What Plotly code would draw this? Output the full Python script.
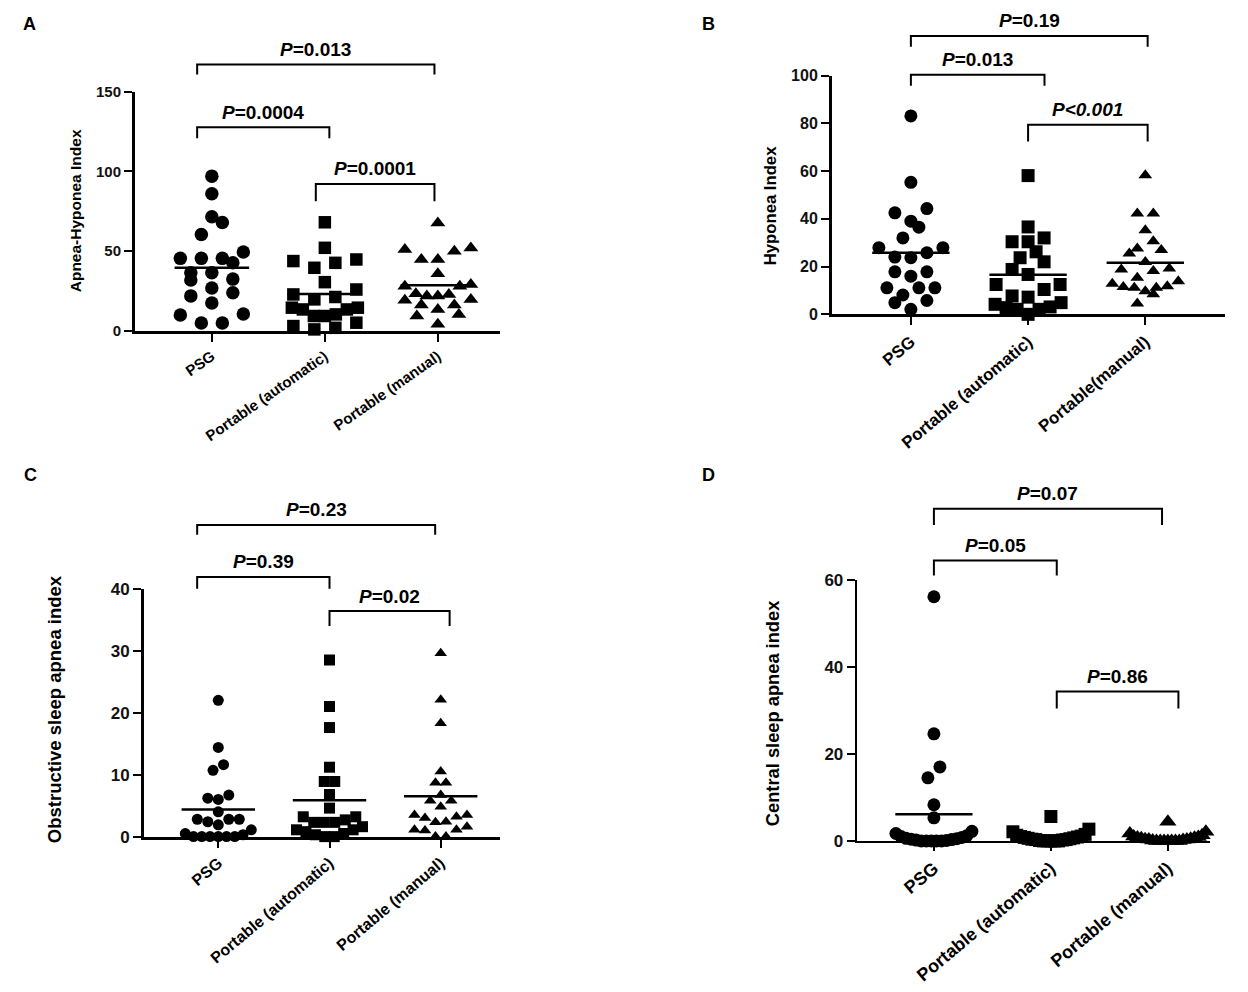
"""
Scatter dot plots: PSG vs portable device (automatic / manual scoring)
Four panels A-D with means and P-value brackets
"""
import numpy as np
import plotly.graph_objects as go

W, H = 1248, 992
FONT = "Liberation Sans, Arial, sans-serif"
# vertical pixel placement correction measured from the rendered page
Y_TOP, Y_SPAN = 7.3, 975.1

groups = ["PSG", "Portable (automatic)", "Portable (manual)"]
groups_b = ["PSG", "Portable (automatic)", "Portable(manual)"]

# A - Apnea-Hyponea Index
ahi_psg = [97, 86, 71.5, 68, 60.5, 49.5, 45.5, 45.5, 45.5, 42.7, 36.5, 36.5,
           32.5, 32, 27, 24, 22, 17.5, 10.6, 10, 5, 5]
ahi_auto = [68.1, 52.1, 44.8, 43.8, 42.7, 39.6, 30.6, 26.0, 22.9, 21.3, 19.8,
            14.6, 14.6, 13.5, 13.5, 10.4, 9.4, 9.4, 5.2, 3.1, 2.0, 1.0]
ahi_manual = [67.7, 52, 51, 50, 44.8, 44.8, 35.8, 29.2, 28.1, 28.1, 23.3, 22.9,
              21.9, 21.9, 19.8, 19.2, 16.3, 16.3, 13.5, 10.4, 9.4, 4.2]
ahi_ticks = [0, 50, 100, 150]
ahi_p = ["P=0.013", "P=0.0004", "P=0.0001"]

# B - Hyponea Index
hi_psg = [83.1, 55.3, 44.3, 42.5, 39.0, 36.5, 32.0, 27.9, 27.9, 25.8, 24.0,
          23.7, 17.8, 17.8, 16.0, 11.1, 11.1, 11.1, 8.1, 5.8, 4.9, 2.1]
hi_auto = [58.1, 36.6, 32.0, 30.4, 30.4, 26.2, 23.7, 22.0, 18.8, 16.7, 12.5,
           12.5, 10.4, 7.7, 7.2, 4.9, 4.2, 3.1, 2.8, 2.1, 2.1, 0.0]
hi_manual = [58.2, 42.2, 42.2, 35.2, 30.6, 27.6, 26.9, 25.5, 21.9, 19.2, 18.8,
             18.1, 15.3, 13.9, 12.8, 11.8, 11.4, 11.1, 11.1, 9.7, 8.4, 4.5]
hi_ticks = [0, 20, 40, 60, 80, 100]
hi_p = ["P=0.19", "P=0.013", "P<0.001"]

# C - Obstructive sleep apnea index
osa_psg = [22.0, 14.4, 11.6, 10.7, 6.7, 6.2, 6.0, 4.0, 2.8, 2.8, 2.8, 2.4,
           1.9, 1.1, 0.5, 0.3, 0, 0, 0, 0, 0, 0]
osa_auto = [28.5, 21.0, 17.6, 11.2, 8.9, 8.9, 6.8, 4.6, 3.2, 3.2, 2.7, 2.3,
            2.3, 2.3, 1.6, 1.1, 1.1, 0.8, 0.5, 0.3, 0, 0]
osa_manual = [29.6, 22.1, 18.3, 10.5, 8.7, 8.7, 6.7, 5.8, 5.8, 4.8, 3.5, 3.5,
              3.2, 3.0, 2.4, 2.3, 1.6, 1.1, 1.1, 1.0, 0, 0]
osa_ticks = [0, 10, 20, 30, 40]
osa_p = ["P=0.23", "P=0.39", "P=0.02"]

# D - Central sleep apnea index
csa_psg = [56.1, 24.6, 17.0, 14.5, 8.3, 5.3, 2.2, 1.7, 1.2, 1.0, 0.8, 0.6,
           0.5, 0.4, 0.3, 0.2, 0.1, 0, 0, 0, 0, 0]
csa_auto = [5.6, 2.7, 2.1, 1.5, 1.3, 1.1, 1.0, 0.9, 0.8, 0.7, 0.6, 0.5,
            0.4, 0.3, 0.3, 0.2, 0.1, 0, 0, 0, 0, 0]
csa_manual = [4.4, 2.1, 1.7, 1.3, 1.0, 0.9, 0.8, 0.7, 0.6, 0.5, 0.4, 0.3,
              0.3, 0.2, 0.1, 0, 0, 0, 0, 0, 0, 0]
csa_ticks = [0, 20, 40, 60]
csa_p = ["P=0.07", "P=0.05", "P=0.86"]

symbols = ["circle", "square", "triangle-up"]

# layout of each panel (pixel domains, ranges, bracket geometry in data units)
panels = [
    dict(letter="A", title="Apnea-Hyponea Index", labels=groups,
         values=[ahi_psg, ahi_auto, ahi_manual], ticks=ahi_ticks, pvals=ahi_p,
         dom_x=(135, 500), dom_y=(330, 90), xr=(-0.68, 2.55),
         sizes=[13.5, 12.5, 13], step=21, half=33, axw=3, tickangle=-35,
         xfont=15, yfont=15, tfont=15.5, title_xy=(75, 210), letter_xy=(29, 22),
         brackets=[(-0.13, 1.97, 166.9, 160.6), (-0.13, 1.04, 127.7, 120.8),
                   (0.92, 1.97, 92.1, 81.3)]),
    dict(letter="B", title="Hyponea Index", labels=groups_b,
         values=[hi_psg, hi_auto, hi_manual], ticks=hi_ticks, pvals=hi_p,
         dom_x=(832, 1225), dom_y=(313.3, 74), xr=(-0.673, 2.68),
         sizes=[13, 13, 12], step=16, half=33, axw=3, tickangle=-40,
         xfont=17, yfont=16, tfont=16.7, title_xy=(770, 205), letter_xy=(708, 22),
         brackets=[(0, 2.02, 116.6, 112.1), (0, 1.14, 100.3, 95.7),
                   (1.0, 2.02, 79.4, 72.4)]),
    dict(letter="C", title="Obstructive sleep apnea index", labels=groups,
         values=[osa_psg, osa_auto, osa_manual], ticks=osa_ticks, pvals=osa_p,
         dom_x=(144, 500), dom_y=(836.7, 588.3), xr=(-0.668, 2.533),
         sizes=[11, 11, 11], step=10.5, half=33, axw=3, tickangle=-40,
         xfont=16, yfont=17, tfont=18.5, title_xy=(54, 709), letter_xy=(30, 474),
         brackets=[(-0.19, 1.95, 50.3, 48.7), (-0.19, 1.0, 41.9, 40.0),
                   (1.0, 2.08, 36.4, 34.0)]),
    dict(letter="D", title="Central sleep apnea index", labels=groups,
         values=[csa_psg, csa_auto, csa_manual], ticks=csa_ticks, pvals=csa_p,
         dom_x=(856.7, 1210), dom_y=(841, 579.3), xr=(-0.66, 2.36),
         sizes=[13, 13, 15], step=12, half=38, axw=2, tickangle=-40,
         xfont=18, yfont=17, tfont=18.3, title_xy=(772, 713), letter_xy=(708, 474),
         brackets=[(0, 1.95, 76.3, 72.6), (0, 1.05, 64.4, 61.0),
                   (1.05, 2.09, 34.3, 30.4)]),
]


def paper_x(px):
    return px / W


def paper_y(px):
    return 1 - (px - Y_TOP) / Y_SPAN


def swarm_offsets(values, diam_px, y_scale, step_px, half_px, x_scale):
    """Row-based dot spreading like GraphPad: close values share a row,
    lowest values go to the centre, highest to the edges."""
    vals = np.asarray(values, float)
    order = np.argsort(vals, kind="stable")
    thr = diam_px / y_scale
    rows, cur = [], [order[0]]
    for idx in order[1:]:
        if vals[idx] - vals[cur[0]] < thr:
            cur.append(idx)
        else:
            rows.append(cur)
            cur = [idx]
    rows.append(cur)
    offsets = np.zeros(len(vals))
    for row in rows:
        n = len(row)
        step = step_px if n == 1 else min(step_px, 2 * half_px / (n - 1))
        slots = (np.arange(n) - (n - 1) / 2) * step
        slot_order = sorted(range(n), key=lambda k: (abs(slots[k]), slots[k]))
        for idx, k in zip(row, slot_order):
            offsets[idx] = slots[k] / x_scale
    return offsets


fig = go.Figure()
shapes, annotations = [], []

for n, p in enumerate(panels, start=1):
    sfx = "" if n == 1 else str(n)
    x0, x1 = p["dom_x"]
    yb, yt = p["dom_y"]
    xr0, xr1 = p["xr"]
    ymax = p["ticks"][-1]
    x_scale = (x1 - x0) / (xr1 - xr0)
    y_scale = (yb - yt) / ymax

    def to_px_x(v):
        return x0 + (v - xr0) * x_scale

    def to_px_y(v):
        return yb - v * y_scale

    for i, vals in enumerate(p["values"]):
        offs = swarm_offsets(vals, p["sizes"][i], y_scale, p["step"], p["half"], x_scale)
        fig.add_trace(go.Scatter(
            x=i + offs, y=vals, mode="markers",
            marker=dict(symbol=symbols[i], size=p["sizes"][i], color="black",
                        line=dict(width=0)),
            cliponaxis=False, xaxis="x" + sfx, yaxis="y" + sfx,
            showlegend=False, hoverinfo="y"
        ))
        m = float(np.mean(vals))
        fig.add_trace(go.Scatter(
            x=[i - 0.33, i + 0.33], y=[m, m], mode="lines",
            line=dict(color="black", width=2.5),
            cliponaxis=False, xaxis="x" + sfx, yaxis="y" + sfx,
            showlegend=False, hoverinfo="skip"
        ))

    fig.update_layout(**{
        "xaxis" + sfx: dict(
            domain=[paper_x(x0), paper_x(x1)], range=list(p["xr"]), anchor="y" + sfx,
            tickvals=[0, 1, 2], ticktext=p["labels"], tickangle=p["tickangle"],
            ticks="outside", ticklen=8, tickwidth=2, tickcolor="black",
            showline=True, linecolor="black", linewidth=p["axw"],
            showgrid=False, zeroline=False, fixedrange=True,
            tickfont=dict(family=FONT, size=p["xfont"], color="black", weight="bold"),
        ),
        "yaxis" + sfx: dict(
            domain=[paper_y(yb), paper_y(yt)], range=[0, ymax], anchor="x" + sfx,
            tickvals=p["ticks"], ticks="outside", ticklen=8, tickwidth=2,
            tickcolor="black", showline=True, linecolor="black",
            linewidth=p["axw"], showgrid=False, zeroline=False, fixedrange=True,
            tickfont=dict(family=FONT, size=p["yfont"], color="#111", weight="bold"),
        ),
    })

    # significance brackets
    for (bl, br, btop, bleg), label in zip(p["brackets"], p["pvals"]):
        xl, xrr = paper_x(to_px_x(bl)), paper_x(to_px_x(br))
        ytp, ylg = paper_y(to_px_y(btop)), paper_y(to_px_y(bleg))
        shapes.append(dict(
            type="path", xref="paper", yref="paper",
            path=f"M{xl},{ylg} L{xl},{ytp} L{xrr},{ytp} L{xrr},{ylg}",
            line=dict(color="black", width=2)
        ))
        if label.startswith("P<"):
            txt = "<b><i>P&lt;" + label[2:] + "</i></b>"
        else:
            txt = "<b><i>P</i>" + label[1:] + "</b>"
        annotations.append(dict(
            x=(xl + xrr) / 2, y=ytp, xref="paper", yref="paper",
            text=txt, showarrow=False, xanchor="center", yanchor="middle",
            yshift=15, font=dict(family=FONT, size=19, color="black")
        ))

    tx, ty = p["title_xy"]
    annotations.append(dict(
        x=paper_x(tx), y=paper_y(ty), xref="paper", yref="paper", text=p["title"],
        textangle=-90, showarrow=False, xanchor="center", yanchor="middle",
        font=dict(family=FONT, size=p["tfont"], color="black", weight="bold")
    ))
    lx, ly = p["letter_xy"]
    annotations.append(dict(
        x=paper_x(lx), y=paper_y(ly), xref="paper", yref="paper", text=p["letter"],
        showarrow=False, xanchor="center", yanchor="middle",
        font=dict(family=FONT, size=18, color="black", weight="bold")
    ))

fig.update_layout(
    width=W, height=H, margin=dict(l=0, r=0, t=0, b=0),
    plot_bgcolor="white", paper_bgcolor="white",
    shapes=shapes, annotations=annotations,
    showlegend=False, hovermode="closest",
    font=dict(family=FONT, color="black"),
)

# page body has a default margin; drop it so the figure fills the window
fig.write_html("out.html", config={"displayModeBar": False},
               post_script="document.body.style.margin='0';")
